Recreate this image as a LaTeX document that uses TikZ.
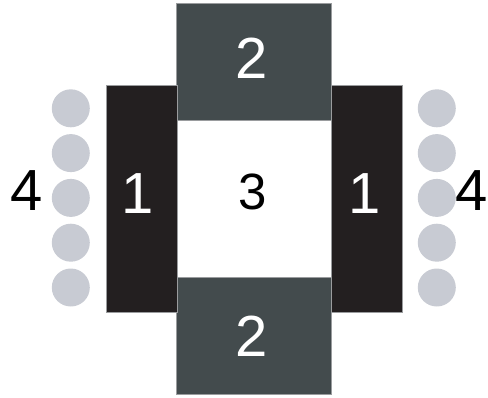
\documentclass[tikz,border=0pt]{standalone}
\usepackage{fontspec}
\setmainfont{Liberation Sans}
\definecolor{slate}{HTML}{434B4D}
\definecolor{blk}{HTML}{231F20}
\definecolor{dot}{HTML}{C8CBD3}
\definecolor{edge}{HTML}{9A9C9E}
\begin{document}
\begin{tikzpicture}[x=1pt,y=-1pt,
  blockbox/.style={draw=edge,line width=0.8pt,inner sep=0pt,minimum width=#1},
  digit/.style={font=\fontsize{58}{58}\selectfont,inner sep=0pt,anchor=base},
  smalldigit/.style={font=\fontsize{51}{51}\selectfont,inner sep=0pt,anchor=base},
  dotc/.style={circle,fill=dot,draw=none,minimum size=38pt,inner sep=0pt}]
\useasboundingbox (0,0) rectangle (488,397);
% top and bottom blocks
\node[blockbox=155pt,fill=slate,minimum height=117pt,anchor=north west] (t2) at (176,3) {};
\node[blockbox=155pt,fill=slate,minimum height=117pt,anchor=north west] (b2) at (176,276.5) {};
% side blocks
\node[blockbox=71pt,fill=blk,minimum height=226.5pt,anchor=north west] (l1) at (106,85) {};
\node[blockbox=71pt,fill=blk,minimum height=226.5pt,anchor=north west] (r1) at (331,85) {};
% labels
\node[digit,text=white] (t2l) at (252,78.3) {2};
\node[digit,text=white] (b2l) at (252,356.7) {2};
\node[digit,text=white] (l1l) at (138,213) {1};
\node[digit,text=white] (r1l) at (364.5,213) {1};
\node[smalldigit] (c3) at (253,209.5) {3};
% circles
\foreach \i in {0,...,4}{
  \node[dotc] (ld\i) at (70.8,108.3+44.8*\i) {};
  \node[dotc] (rd\i) at (436.8,108.3+44.8*\i) {};
}
\node[digit] (l4) at (26.7,210.7) {4};
\node[digit] (r4) at (472,210.5) {4};
\end{tikzpicture}
\end{document}
